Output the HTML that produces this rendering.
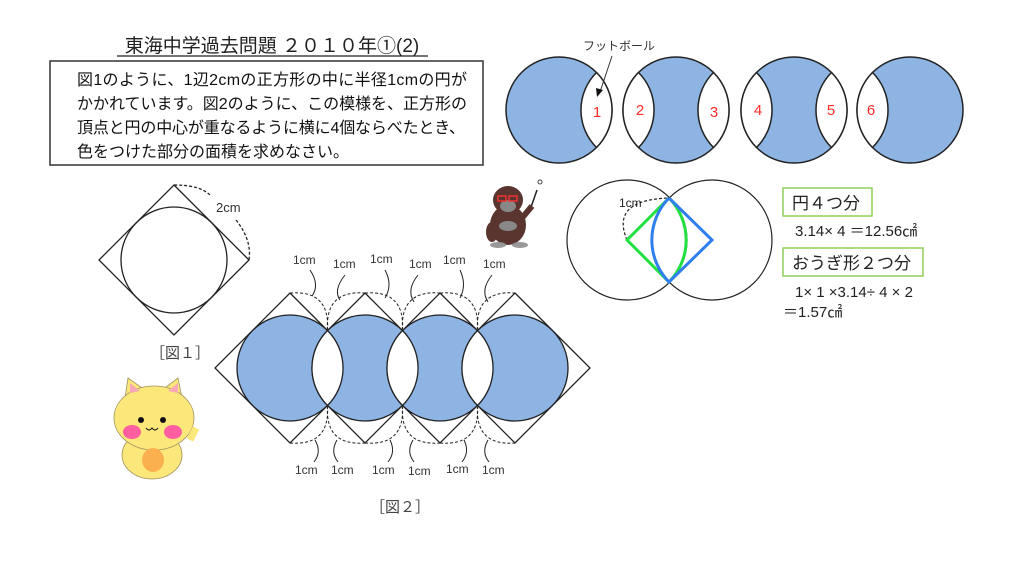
<!DOCTYPE html>
<html><head><meta charset="utf-8"><style>
body{margin:0;width:1024px;height:576px;background:#fff;overflow:hidden}
svg{display:block}
text{font-family:"Liberation Sans","Noto Sans CJK JP",sans-serif}
</style></head><body>
<svg width="1024" height="576" viewBox="0 0 1024 576" xmlns="http://www.w3.org/2000/svg">
<!-- title -->
<text x="272" y="52" font-size="19" text-anchor="middle" fill="#222">東海中学過去問題 ２０１０年<tspan>①</tspan>(2)</text>
<line x1="117" y1="56" x2="428" y2="56" stroke="#222" stroke-width="1.2"/>
<rect x="50" y="61" width="433" height="104" fill="#fff" stroke="#333" stroke-width="1.5"/>
<g font-size="16" fill="#111">
<text x="77" y="85" textLength="390">図1のように、1辺2cmの正方形の中に半径1cmの円が</text>
<text x="77" y="109" textLength="390">かかれています。図2のように、この模様を、正方形の</text>
<text x="77" y="133" textLength="388">頂点と円の中心が重なるように横に4個ならべたとき、</text>
<text x="77" y="157">色をつけた部分の面積を求めなさい。</text>
</g>

<!-- top row -->
<g stroke="#222" stroke-width="1.5">
<circle cx="559" cy="110" r="53" fill="#8db4e2"/>
<circle cx="676" cy="110" r="53" fill="#8db4e2"/>
<circle cx="794" cy="110" r="53" fill="#8db4e2"/>
<circle cx="910" cy="110" r="53" fill="#8db4e2"/>
<g fill="#fff">
<path d="M596.5,72.5A53,53 0 0 1 596.5,147.5A53,53 0 0 1 596.5,72.5Z"/>
<path d="M638.5,72.5A53,53 0 0 1 638.5,147.5A53,53 0 0 1 638.5,72.5Z"/>
<path d="M713.5,72.5A53,53 0 0 1 713.5,147.5A53,53 0 0 1 713.5,72.5Z"/>
<path d="M756.5,72.5A53,53 0 0 1 756.5,147.5A53,53 0 0 1 756.5,72.5Z"/>
<path d="M831.5,72.5A53,53 0 0 1 831.5,147.5A53,53 0 0 1 831.5,72.5Z"/>
<path d="M872.5,72.5A53,53 0 0 1 872.5,147.5A53,53 0 0 1 872.5,72.5Z"/>
</g></g>
<text x="583" y="50" font-size="12" fill="#333">フットボール</text>
<line x1="612" y1="56" x2="600" y2="92" stroke="#333" stroke-width="1"/>
<polygon points="597,97 596,88 603,90" fill="#111"/>
<g font-size="15" fill="#ff2a2a" text-anchor="middle">
<text x="597" y="117">1</text><text x="640" y="115">2</text><text x="714" y="117">3</text>
<text x="758" y="115">4</text><text x="831" y="115">5</text><text x="871" y="115">6</text>
</g>

<!-- right figure -->
<g fill="none" stroke="#222" stroke-width="1.2">
<circle cx="627" cy="240" r="60"/><circle cx="712" cy="240" r="60"/>
<path d="M627,240 Q610,200 669,198" stroke-dasharray="3,2"/>
</g>
<path d="M669,198L627,240L669,282A60,60 0 0 0 669,198" fill="none" stroke="#22e040" stroke-width="3"/>
<path d="M669,198L712,240L669,282A60,60 0 0 1 669,198" fill="none" stroke="#2f7fef" stroke-width="3"/>
<text x="619" y="207" font-size="12" fill="#222" font-family="Liberation Mono,monospace">1cm</text>
<rect x="783" y="188" width="89" height="28" fill="none" stroke="#8fd05a" stroke-width="1.5"/>
<text x="792" y="209" font-size="17" fill="#222">円４つ分</text>
<text x="795" y="236" font-size="15" fill="#222">3.14× 4 ＝12.56㎠</text>
<rect x="783" y="248" width="140" height="28" fill="none" stroke="#8fd05a" stroke-width="1.5"/>
<text x="792" y="269" font-size="17" fill="#222">おうぎ形２つ分</text>
<text x="795" y="297" font-size="15" fill="#222">1× 1 ×3.14÷ 4 × 2</text>
<text x="783" y="317" font-size="15" fill="#222">＝1.57㎠</text>

<!-- fig1 -->
<g fill="none" stroke="#222" stroke-width="1.3">
<polygon points="174,185 249,260 174,335 99,260"/>
<circle cx="174" cy="260" r="53"/>
<path d="M174,185 Q200,185 210,195" stroke-dasharray="3,2"/>
<path d="M236,220 Q252,240 249,260" stroke-dasharray="3,2"/>
</g>
<text x="216" y="212" font-size="13" fill="#333" font-family="Liberation Mono,monospace">2cm</text>
<text x="150" y="358" font-size="15" fill="#444">［図１］</text>

<!-- fig2 -->
<g stroke="#222" stroke-width="1.3">
<g fill="none">
<polygon points="290,293 365,368 290,443 215,368"/>
<polygon points="365,293 440,368 365,443 290,368"/>
<polygon points="440,293 515,368 440,443 365,368"/>
<polygon points="515,293 590,368 515,443 440,368"/>
</g>
<circle cx="290" cy="368" r="53" fill="#8db4e2"/>
<circle cx="365" cy="368" r="53" fill="#8db4e2"/>
<circle cx="440" cy="368" r="53" fill="#8db4e2"/>
<circle cx="515" cy="368" r="53" fill="#8db4e2"/>
<g fill="#fff">
<path d="M327.5,330.5A53,53 0 0 1 327.5,405.5A53,53 0 0 1 327.5,330.5Z"/>
<path d="M402.5,330.5A53,53 0 0 1 402.5,405.5A53,53 0 0 1 402.5,330.5Z"/>
<path d="M477.5,330.5A53,53 0 0 1 477.5,405.5A53,53 0 0 1 477.5,330.5Z"/>
</g>
<g fill="none" stroke-dasharray="3,2" stroke-width="1">
<path d="M290,293 Q330,290 327.5,330"/><path d="M327.5,330 Q325,290 365,293"/>
<path d="M365,293 Q405,290 402.5,330"/><path d="M402.5,330 Q400,290 440,293"/>
<path d="M440,293 Q480,290 477.5,330"/><path d="M477.5,330 Q475,290 515,293"/>
<path d="M290,443 Q330,446 327.5,406"/><path d="M327.5,406 Q325,446 365,443"/>
<path d="M365,443 Q405,446 402.5,406"/><path d="M402.5,406 Q400,446 440,443"/>
<path d="M440,443 Q480,446 477.5,406"/><path d="M477.5,406 Q475,446 515,443"/>
</g>
<g fill="none" stroke-width="1">
<path d="M310,270 Q320,285 312,296"/><path d="M345,275 Q333,290 340,300"/>
<path d="M385,270 Q393,285 385,298"/><path d="M418,275 Q406,290 414,302"/>
<path d="M460,270 Q467,285 460,298"/><path d="M492,275 Q480,290 488,302"/>
<path d="M315,440 Q322,452 314,462"/><path d="M337,440 Q330,452 338,462"/>
<path d="M390,440 Q396,452 388,462"/><path d="M413,440 Q406,452 414,462"/>
<path d="M464,440 Q470,452 462,462"/><path d="M488,440 Q481,452 489,462"/>
</g>
</g>
<g font-size="12" fill="#333" font-family="Liberation Mono,monospace">
<text x="293" y="264">1cm</text><text x="333" y="268">1cm</text><text x="370" y="263">1cm</text>
<text x="409" y="268">1cm</text><text x="443" y="264">1cm</text><text x="483" y="268">1cm</text>
<text x="295" y="474">1cm</text><text x="331" y="474">1cm</text><text x="372" y="474">1cm</text>
<text x="408" y="475">1cm</text><text x="446" y="473">1cm</text><text x="482" y="474">1cm</text>
</g>
<text x="370" y="512" font-size="15" fill="#444">［図２］</text>

<!-- gorilla -->
<g>
<line x1="537" y1="190" x2="530" y2="210" stroke="#222" stroke-width="1.5"/>
<circle cx="540" cy="182" r="2" fill="#fff" stroke="#444"/>
<ellipse cx="508" cy="225" rx="18" ry="20" fill="#5a3530"/>
<ellipse cx="508" cy="200" rx="15" ry="14" fill="#5a3530"/>
<ellipse cx="508" cy="206" rx="8" ry="6" fill="#888"/>
<rect x="498" y="196" width="8" height="5" fill="none" stroke="#e33" stroke-width="1.5"/>
<rect x="509" y="196" width="8" height="5" fill="none" stroke="#e33" stroke-width="1.5"/>
<ellipse cx="508" cy="226" rx="9" ry="5" fill="#888"/>
<path d="M522,218 L532,206" stroke="#5a3530" stroke-width="6"/>
<ellipse cx="492" cy="232" rx="6" ry="10" fill="#5a3530"/>
<ellipse cx="498" cy="245" rx="8" ry="3" fill="#999"/>
<ellipse cx="520" cy="245" rx="8" ry="3" fill="#999"/>
</g>

<!-- cat -->
<g stroke="#a09060" stroke-width="0.8">
<ellipse cx="152" cy="455" rx="30" ry="24" fill="#fbe77a"/>
<polygon points="125,398 128,378 145,390" fill="#fbe77a"/>
<polygon points="182,398 178,378 162,390" fill="#fbe77a"/>
<ellipse cx="154" cy="418" rx="40" ry="32" fill="#fbe77a"/>
<path d="M190,440 L196,428" stroke="#fbe77a" stroke-width="7"/>
</g>
<polygon points="130,393 130,383 140,391" fill="#f9a8b8"/>
<polygon points="178,393 178,383 168,391" fill="#f9a8b8"/>
<circle cx="141" cy="420" r="3" fill="#111"/><circle cx="163" cy="420" r="3" fill="#111"/>
<path d="M146,428 q3,4 6,0 q3,4 6,0" fill="none" stroke="#111"/>
<ellipse cx="132" cy="432" rx="9" ry="7" fill="#ff5fa0"/>
<ellipse cx="173" cy="432" rx="9" ry="7" fill="#ff5fa0"/>
<ellipse cx="153" cy="460" rx="11" ry="12" fill="#fbb050"/>
</svg>
</body></html>
